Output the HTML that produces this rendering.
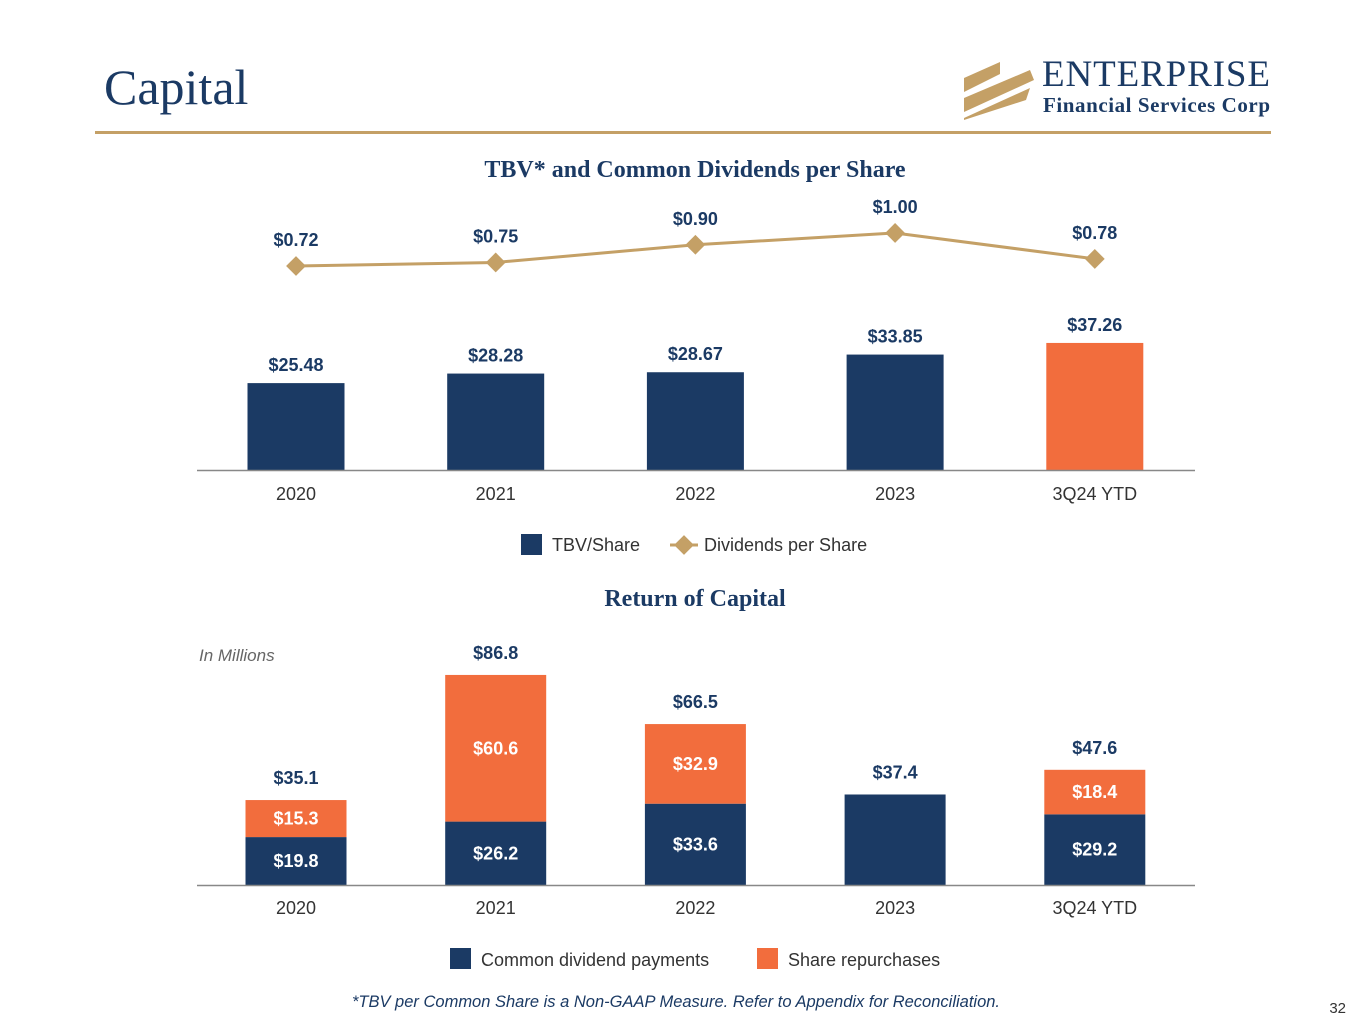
<!DOCTYPE html>
<html><head><meta charset="utf-8"><style>
body{margin:0;width:1365px;height:1024px;background:#fff;overflow:hidden;font-family:"Liberation Sans",sans-serif}
svg{position:absolute;left:0;top:0}
</style></head><body>
<svg width="1365" height="1024" id="s">
<text x="104" y="104" font-family="Liberation Serif" font-size="50" fill="#1b3a64">Capital</text>
<rect x="95" y="131" width="1176" height="3" fill="#c4a066"/>
<g>
<polygon points="964,78 1000,62 1000,74 964,92" fill="#c4a066"/>
<polygon points="964,98 1030,70 1034,80 964,112" fill="#c4a066"/>
<polygon points="964,118 1030,88 1026,100 964,120" fill="#c4a066"/>
<text x="1042" y="86" font-family="Liberation Serif" font-size="37" fill="#1b3a64" textLength="228">ENTERPRISE</text>
<text x="1043" y="112" font-family="Liberation Serif" font-weight="bold" font-size="21" fill="#1b3a64" textLength="227">Financial Services Corp</text>
</g>
<text x="695" y="177" text-anchor="middle" font-family="Liberation Serif" font-weight="bold" font-size="24" fill="#1b3a64">TBV* and Common Dividends per Share</text>
<text x="695" y="606" text-anchor="middle" font-family="Liberation Serif" font-weight="bold" font-size="24" fill="#1b3a64">Return of Capital</text>
<text x="199" y="661" font-style="italic" font-size="17" fill="#666">In Millions</text>
<g id="c1"></g>
<g id="c2"></g>
<g>
<rect x="521" y="534" width="21" height="21" fill="#1b3a64"/>
<text x="552" y="551" font-size="18" fill="#333">TBV/Share</text>
<line x1="670" y1="545" x2="698" y2="545" stroke="#c4a066" stroke-width="3"/>
<rect x="677" y="538" width="14" height="14" fill="#c4a066" transform="rotate(45 684 545)"/>
<text x="704" y="551" font-size="18" fill="#333">Dividends per Share</text>
</g>
<g>
<rect x="450" y="948" width="21" height="21" fill="#1b3a64"/>
<text x="481" y="966" font-size="18" fill="#333">Common dividend payments</text>
<rect x="757" y="948" width="21" height="21" fill="#f26d3d"/>
<text x="788" y="966" font-size="18" fill="#333">Share repurchases</text>
</g>
<text x="676" y="1007" text-anchor="middle" font-style="italic" font-size="16.5" fill="#1b3a64">*TBV per Common Share is a Non-GAAP Measure. Refer to Appendix for Reconciliation.</text>
<text x="1346" y="1013" text-anchor="end" font-size="15" fill="#333">32</text>
</svg>
<script>
const categories=["2020","2021","2022","2023","3Q24 YTD"];
const tbv=[25.48,28.28,28.67,33.85,37.26];
const dividends=[0.72,0.75,0.90,1.00,0.78];
const commonDiv=[19.8,26.2,33.6,37.4,29.2];
const repurch=[15.3,60.6,32.9,0,18.4];
const totals=[35.1,86.8,66.5,37.4,47.6];
const NS="http://www.w3.org/2000/svg";
const NAVY="#1b3a64",ORANGE="#f26d3d",GOLD="#c4a066";
function mk(p,t,a,txt){const e=document.createElementNS(NS,t);for(const k in a)e.setAttribute(k,a[k]);if(txt!==undefined)e.textContent=txt;p.appendChild(e);return e;}
const xc=i=>296+i*199.7;
const y1=v=>470-v*3.41;
const yd=v=>266-(v-0.72)*118;
const y2=v=>885-v*2.42;
const c1=document.getElementById('c1'),c2=document.getElementById('c2');
tbv.forEach((v,i)=>{
 const r=mk(c1,'rect',{x:xc(i)-48.5,y:y1(v),width:97,height:470-y1(v),fill:i==4?ORANGE:NAVY});
 
 
 mk(c1,'text',{x:xc(i),y:y1(v)-12,'text-anchor':'middle','font-size':18,'font-weight':'bold',fill:NAVY},'$'+v.toFixed(2));
 mk(c1,'text',{x:xc(i),y:500,'text-anchor':'middle','font-size':18,fill:'#333'},categories[i]);
});
mk(c1,'line',{x1:197,x2:1195,y1:470.5,y2:470.5,stroke:'#888','stroke-width':1.5});
const pl=mk(c1,'polyline',{points:dividends.map((v,i)=>xc(i)+','+yd(v)).join(' '),fill:'none',stroke:GOLD,'stroke-width':3});


dividends.forEach((v,i)=>{
 const d=mk(c1,'rect',{x:xc(i)-7,y:yd(v)-7,width:14,height:14,fill:GOLD,transform:`rotate(45 ${xc(i)} ${yd(v)})`});
 
 
 mk(c1,'text',{x:xc(i),y:yd(v)-20,'text-anchor':'middle','font-size':18,'font-weight':'bold',fill:NAVY},'$'+v.toFixed(2));
});
commonDiv.forEach((v,i)=>{
 const x=xc(i)-50.5;
 const a=mk(c2,'rect',{x:x,y:y2(v),width:101,height:885-y2(v),fill:NAVY});
 
 
 const r=repurch[i];
 if(r>0){
  const b=mk(c2,'rect',{x:x,y:y2(v+r),width:101,height:y2(v)-y2(v+r),fill:ORANGE});
  
  
  mk(c2,'text',{x:xc(i),y:(y2(v)+y2(v+r))/2+6,'text-anchor':'middle','font-size':18,'font-weight':'bold',fill:'#fff'},'$'+r.toFixed(1));
  mk(c2,'text',{x:xc(i),y:(885+y2(v))/2+6,'text-anchor':'middle','font-size':18,'font-weight':'bold',fill:'#fff'},'$'+v.toFixed(1));
 }
 mk(c2,'text',{x:xc(i),y:y2(totals[i])-16,'text-anchor':'middle','font-size':18,'font-weight':'bold',fill:NAVY},'$'+totals[i].toFixed(1));
 mk(c2,'text',{x:xc(i),y:914,'text-anchor':'middle','font-size':18,fill:'#333'},categories[i]);
});
mk(c2,'line',{x1:197,x2:1195,y1:885.5,y2:885.5,stroke:'#888','stroke-width':1.5});
</script>
</body></html>
